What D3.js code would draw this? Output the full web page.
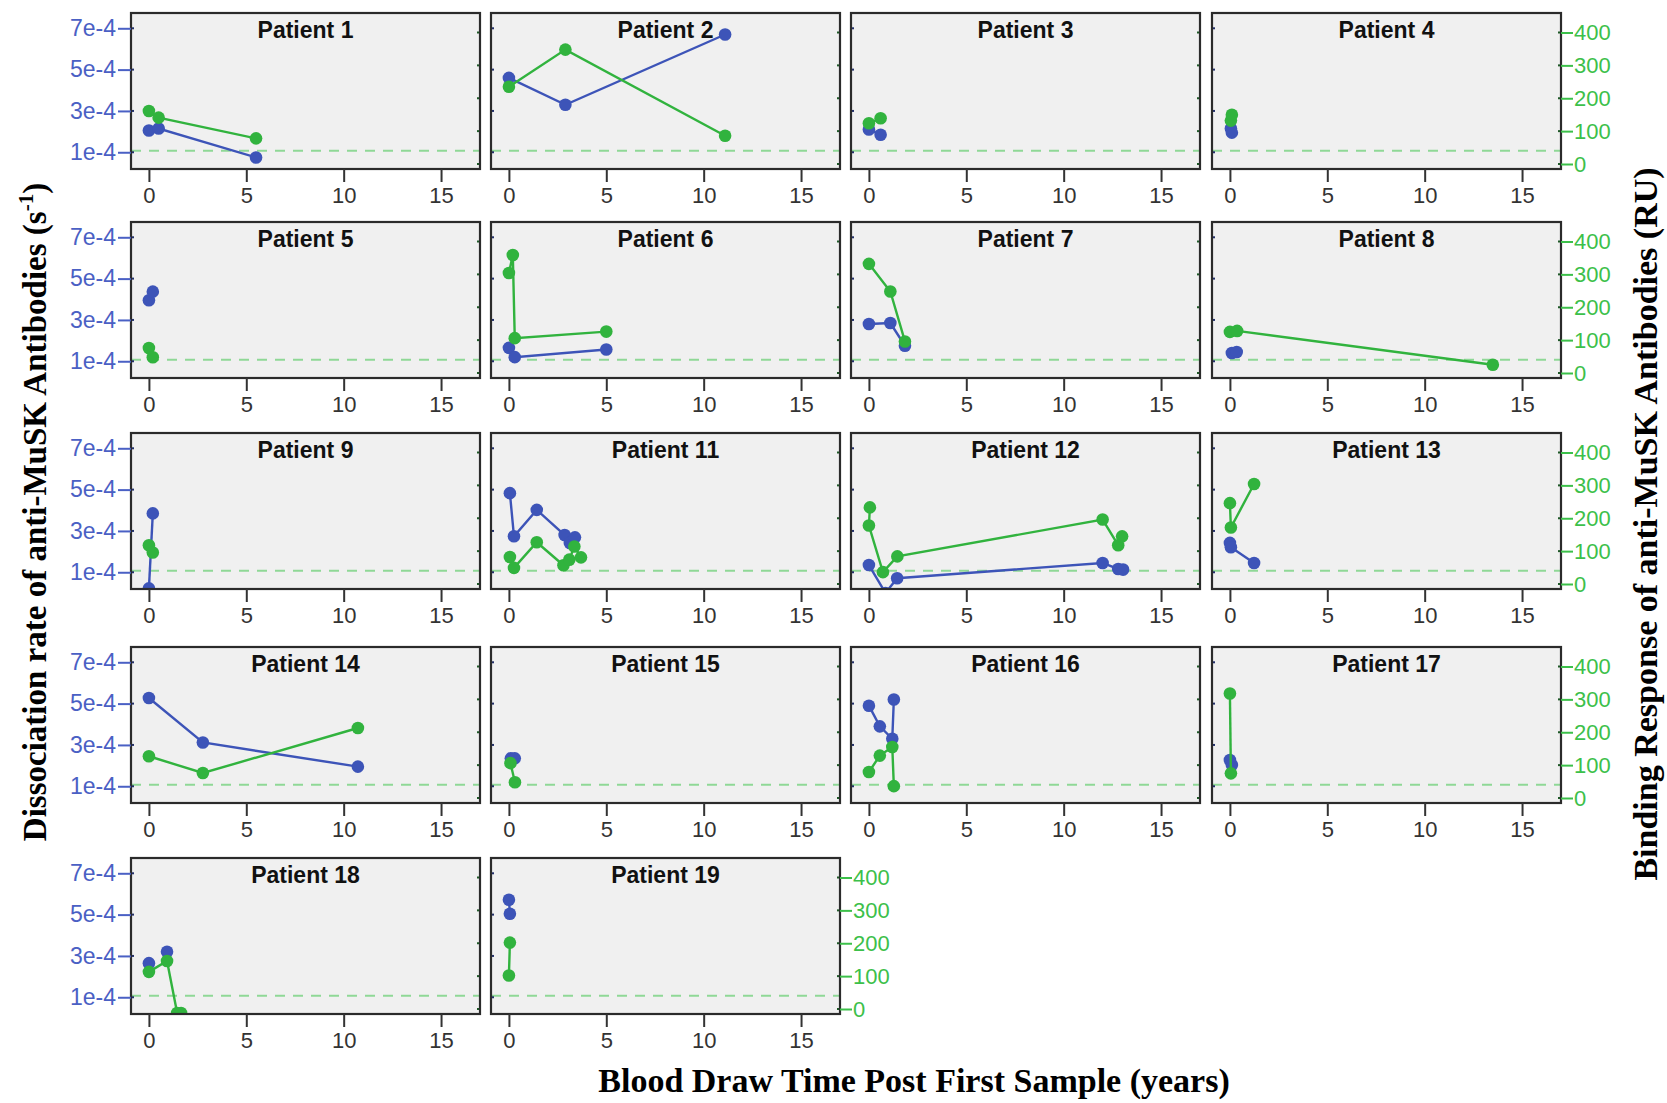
<!DOCTYPE html>
<html lang="en">
<head>
<meta charset="UTF-8">
<title>Anti-MuSK antibodies per patient</title>
<script src="https://d3js.org/d3.v7.min.js"></script>
<style>
  body { margin: 0; background: #fff; }
  svg { display: block; }
  .tick text { font-family: Arial, "Liberation Sans", sans-serif; }
  .title { font-family: Arial, "Liberation Sans", sans-serif; font-weight: bold; font-size: 23px; }
  .big { font-family: "Times New Roman", "Liberation Serif", serif; font-weight: bold; font-size: 34px; }
</style>
</head>
<body>
<div id="chart"></div>
<script>
// patients in panel order (no patient 10)
const patients = [1, 2, 3, 4, 5, 6, 7, 8, 9, 11, 12, 13, 14, 15, 16, 17, 18, 19];

// dissociation rate, in units of 1e-4 s^-1 (blue)
const kdYears = [
  [0, 0.5, 5.5], [0, 2.9, 11.1], [0, 0.6], [0.05, 0.1], [0, 0.2],
  [0, 0.3, 5.0], [0, 1.1, 1.85], [0.1, 0.35], [0, 0.2],
  [0.05, 0.26, 1.43, 2.86, 3.13, 3.39], [0, 0.85, 1.45, 12.0, 12.8, 13.05], [0, 0.05, 1.24],
  [0, 2.77, 10.73], [0.1, 0.3], [0, 0.56, 1.2, 1.28], [0, 0.1],
  [0, 0.93], [0, 0.05]
];
const kdRate = [
  [2.05, 2.15, 0.75], [4.6, 3.3, 6.7], [2.1, 1.85], [2.15, 1.95], [3.95, 4.37],
  [1.65, 1.2, 1.57], [2.8, 2.85, 1.75], [1.4, 1.45], [0.22, 3.85],
  [4.83, 2.74, 4.02, 2.8, 2.42, 2.69], [1.35, 0.0, 0.71, 1.45, 1.16, 1.13], [2.42, 2.21, 1.45],
  [5.27, 3.12, 1.95], [2.35, 2.35], [4.9, 3.9, 3.3, 5.2], [2.27, 2.03],
  [2.65, 3.2], [5.72, 5.04]
];
// patients whose blue points are not joined
const kdNoLine = [18];

// binding response, RU (green)
const ruYears = [
  [0, 0.5, 5.5], [0, 2.9, 11.1], [0, 0.6], [0.05, 0.1], [0, 0.2],
  [0, 0.2, 0.3, 5.0], [0, 1.1, 1.85], [0, 0.37, 13.5], [0, 0.2],
  [0.05, 0.26, 1.43, 2.8, 3.1, 3.36, 3.7], [0.05, 0, 0.72, 1.46, 12.0, 12.8, 13.0], [0, 0.05, 1.24],
  [0, 2.77, 10.73], [0.08, 0.31], [0, 0.56, 1.2, 1.28], [0, 0.05],
  [0, 0.93, 1.45, 1.65], [0.05, 0]
];
const ruValue = [
  [161, 141, 78], [235, 348, 86], [124, 139], [132, 150], [76, 48],
  [304, 359, 106, 126], [332, 248, 96], [125, 128, 25], [118, 96],
  [82, 49, 127, 57, 74, 114, 81], [233, 178, 36, 84, 196, 118, 145], [246, 172, 304],
  [127, 76, 213], [106, 48], [79, 129, 155, 36], [318, 75],
  [113, 146, -12, -12], [202, 102]
];
const ruThreshold = 40;

const yearTicks = [0, 5, 10, 15];
const kdTicks = [1e-4, 3e-4, 5e-4, 7e-4];
const kdTickLabels = ["1e-4", "3e-4", "5e-4", "7e-4"];
const ruTicks = [0, 100, 200, 300, 400];

const width = 1667, height = 1103;
const colX = [131, 491, 851, 1212];
const rowY = [13, 222, 433, 647, 858];
const PW = 349, PH = 156;

const blue = "#3d54b8", green = "#31b33e";
const blueText = "#4a60c4", greenText = "#3cc04a";

const svg = d3.select("#chart").append("svg")
  .attr("width", width).attr("height", height);

const x = d3.scaleLinear().domain([-0.92, 17]).range([0, PW]);
const yKd = d3.scaleLinear().domain([0.19e-4, 7.74e-4]).range([PH, 0]);
const yRu = d3.scaleLinear().domain([-15.2, 459.3]).range([PH, 0]);

patients.forEach((p, i) => {
  const col = i % 4, row = Math.floor(i / 4);
  const g = svg.append("g").attr("transform", `translate(${colX[col]},${rowY[row]})`);

  g.append("clipPath").attr("id", "clip" + i)
    .append("rect").attr("width", PW).attr("height", PH);

  g.append("rect").attr("width", PW).attr("height", PH).attr("fill", "#f0f0f0");

  const plot = g.append("g").attr("clip-path", `url(#clip${i})`);

  plot.append("line")
    .attr("x1", 0).attr("x2", PW)
    .attr("y1", yRu(ruThreshold)).attr("y2", yRu(ruThreshold))
    .attr("stroke", "#8fd896").attr("stroke-width", 2)
    .attr("stroke-dasharray", "10,8");

  const kd = kdYears[i].map((t, j) => ({ t, v: kdRate[i][j] * 1e-4 }));
  const ru = ruYears[i].map((t, j) => ({ t, v: ruValue[i][j] }));

  if (!kdNoLine.includes(p)) {
    plot.append("path").datum(kd)
      .attr("d", d3.line().x(d => x(d.t)).y(d => yKd(d.v)))
      .attr("fill", "none").attr("stroke", blue).attr("stroke-width", 2.4);
  }
  plot.selectAll(".kd").data(kd).enter().append("circle")
    .attr("cx", d => x(d.t)).attr("cy", d => yKd(d.v)).attr("r", 6.3)
    .attr("fill", blue);

  plot.append("path").datum(ru)
    .attr("d", d3.line().x(d => x(d.t)).y(d => yRu(d.v)))
    .attr("fill", "none").attr("stroke", green).attr("stroke-width", 2.4);
  plot.selectAll(".ru").data(ru).enter().append("circle")
    .attr("cx", d => x(d.t)).attr("cy", d => yRu(d.v)).attr("r", 6.3)
    .attr("fill", green);

  // faint tick marks on the inner edges
  kdTicks.forEach(v => g.append("line").attr("x1", 0).attr("x2", 3)
    .attr("y1", yKd(v)).attr("y2", yKd(v)).attr("stroke", "#23306a").attr("stroke-width", 2));
  ruTicks.forEach(v => g.append("line").attr("x1", PW - 3).attr("x2", PW)
    .attr("y1", yRu(v)).attr("y2", yRu(v)).attr("stroke", "#1f5a28").attr("stroke-width", 2));

  g.append("rect").attr("width", PW).attr("height", PH)
    .attr("fill", "none").attr("stroke", "#2b2b2b").attr("stroke-width", 2.2);

  g.append("text").attr("class", "title")
    .attr("x", PW / 2).attr("y", 25).attr("text-anchor", "middle")
    .attr("fill", "#111").text("Patient " + p);

  const xa = g.append("g").attr("transform", `translate(0,${PH})`)
    .call(d3.axisBottom(x).tickValues(yearTicks).tickSize(13).tickPadding(5));
  xa.select(".domain").remove();
  xa.selectAll("line").attr("stroke", "#333").attr("stroke-width", 2);
  xa.selectAll("text").attr("font-size", 22).attr("fill", "#333");

  if (col === 0) {
    const ya = g.append("g")
      .call(d3.axisLeft(yKd).tickValues(kdTicks).tickSize(13).tickPadding(2)
        .tickFormat((d, j) => kdTickLabels[j]));
    ya.select(".domain").remove();
    ya.selectAll("line").attr("stroke", blueText).attr("stroke-width", 2);
    ya.selectAll("text").attr("font-size", 23).attr("fill", blueText);
  }
  if (col === 3 || p === 19) {
    const ya = g.append("g").attr("transform", `translate(${PW},0)`)
      .call(d3.axisRight(yRu).tickValues(ruTicks).tickSize(12).tickPadding(1));
    ya.select(".domain").remove();
    ya.selectAll("line").attr("stroke", greenText).attr("stroke-width", 2);
    ya.selectAll("text").attr("font-size", 22).attr("fill", greenText);
  }
});

// axis titles
const lt = svg.append("text").attr("class", "big")
  .attr("transform", "translate(46,512) rotate(-90)")
  .attr("text-anchor", "middle").attr("fill", "#000")
  .style("font-size", "33px");
lt.append("tspan").text("Dissociation rate of anti-MuSK Antibodies (s");
lt.append("tspan").attr("font-size", 21).attr("dy", -13).text("-1");
lt.append("tspan").attr("dy", 13).text(")");

svg.append("text").attr("class", "big")
  .attr("transform", "translate(1657,524) rotate(-90)")
  .attr("text-anchor", "middle").attr("fill", "#000")
  .text("Binding Response of anti-MuSK Antibodies (RU)");

svg.append("text").attr("class", "big")
  .attr("x", 914).attr("y", 1092)
  .attr("text-anchor", "middle").attr("fill", "#000")
  .text("Blood Draw Time Post First Sample (years)");
</script>
</body>
</html>
